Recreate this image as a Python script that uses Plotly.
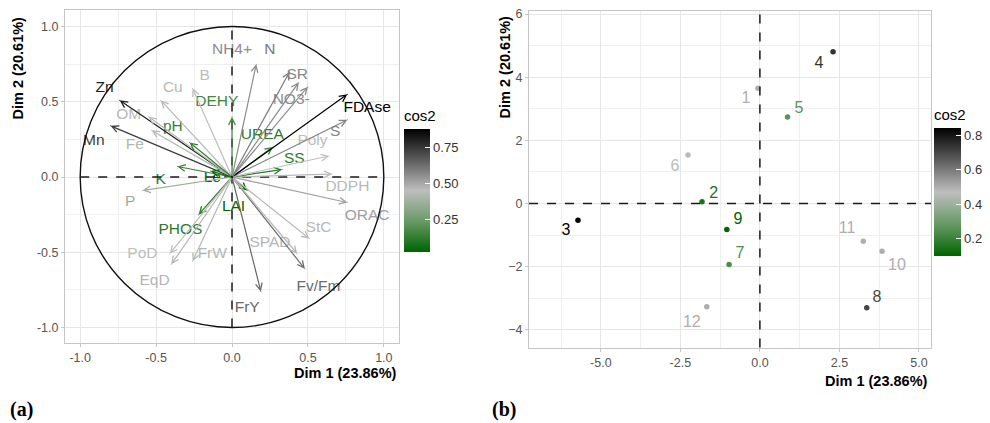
import plotly.graph_objects as go
from plotly.colors import sample_colorscale

# ---------------- data: panel (a) variables ----------------
var_names = ["Zn", "Mn", "OM", "Fe", "Cu", "B", "pH", "DEHY", "K", "P", "Le", "LAI",
             "PHOS", "PoD", "EqD", "FrW", "FrY", "Fv/Fm", "SPAD", "StC", "ORAC", "DDPH",
             "SS", "UREA", "Poly", "S", "FDAse", "NO3-", "SR", "N", "NH4+"]
var_dim1 = [-0.74, -0.80, -0.55, -0.53, -0.47, -0.26, -0.28, 0.00, -0.36, -0.59, -0.14, 0.10,
            -0.22, -0.41, -0.40, -0.26, 0.19, 0.48, 0.43, 0.51, 0.76, 0.66,
            0.33, 0.27, 0.64, 0.76, 0.76, 0.50, 0.44, 0.38, 0.16]
var_dim2 = [0.51, 0.34, 0.40, 0.31, 0.51, 0.59, 0.23, 0.40, 0.07, -0.09, 0.04, -0.09,
            -0.25, -0.51, -0.58, -0.56, -0.76, -0.61, -0.51, -0.41, -0.17, 0.02,
            0.05, 0.20, 0.14, 0.38, 0.55, 0.60, 0.63, 0.70, 0.75]
var_cos2 = [0.81, 0.74, 0.46, 0.42, 0.46, 0.44, 0.13, 0.16, 0.13, 0.36, 0.03, 0.02,
            0.11, 0.45, 0.47, 0.42, 0.64, 0.63, 0.47, 0.46, 0.52, 0.46,
            0.11, 0.11, 0.45, 0.58, 0.88, 0.56, 0.57, 0.60, 0.56]
var_lab_x = [-0.84, -0.91, -0.68, -0.64, -0.39, -0.18, -0.39, -0.10, -0.47, -0.67, -0.13, 0.01,
             -0.34, -0.59, -0.51, -0.13, 0.10, 0.57, 0.25, 0.57, 0.89, 0.76,
             0.41, 0.20, 0.53, 0.68, 0.89, 0.39, 0.43, 0.25, 0.00]
var_lab_y = [0.59, 0.24, 0.41, 0.21, 0.59, 0.67, 0.33, 0.50, -0.02, -0.17, -0.01, -0.20,
             -0.35, -0.51, -0.69, -0.51, -0.87, -0.73, -0.44, -0.34, -0.26, -0.07,
             0.12, 0.28, 0.24, 0.30, 0.46, 0.51, 0.68, 0.84, 0.84]

# ---------------- data: panel (b) individuals ----------------
ind_names = ["1", "2", "3", "4", "5", "6", "7", "8", "9", "10", "11", "12"]
ind_dim1 = [-0.06, -1.82, -5.72, 2.30, 0.87, -2.26, -0.97, 3.36, -1.04, 3.84, 3.25, -1.67]
ind_dim2 = [3.65, 0.06, -0.53, 4.81, 2.74, 1.54, -1.93, -3.30, -0.82, -1.51, -1.19, -3.27]
ind_cos2 = [0.50, 0.15, 0.84, 0.74, 0.26, 0.46, 0.24, 0.70, 0.10, 0.50, 0.50, 0.50]
ind_lab_x = [-0.44, -1.45, -6.10, 1.86, 1.23, -2.67, -0.63, 3.68, -0.69, 4.31, 2.74, -2.14]
ind_lab_y = [3.30, 0.31, -0.88, 4.43, 2.99, 1.16, -1.60, -2.99, -0.53, -1.98, -0.82, -3.77]

x_title = "Dim 1 (23.86%)"
y_title = "Dim 2 (20.61%)"

# ---------------- styling ----------------
W, H = 990, 423
FONT = "Liberation Sans, Arial, sans-serif"
cscale = [[0.0, "rgb(0,100,0)"], [0.25, "rgb(104,154,102)"], [0.5, "rgb(190,190,190)"],
          [0.75, "rgb(92,92,92)"], [1.0, "rgb(0,0,0)"]]

def cols(vals, lo, hi):
    return sample_colorscale(cscale, [(v - lo) / (hi - lo) for v in vals])

c1min, c1max = min(var_cos2), max(var_cos2)
c2min, c2max = min(ind_cos2), max(ind_cos2)
var_cols = cols(var_cos2, c1min, c1max)
ind_cols = cols(ind_cos2, c2min, c2max)

fig = go.Figure()

# panel a: invisible markers to drive the colour bar
fig.add_trace(go.Scatter(x=var_dim1, y=var_dim2, mode="markers", xaxis="x", yaxis="y",
                         marker=dict(size=1, color=var_cos2, coloraxis="coloraxis"),
                         hoverinfo="skip", showlegend=False))
fig.add_trace(go.Scatter(x=var_lab_x, y=var_lab_y, mode="text", text=var_names,
                         xaxis="x", yaxis="y", textposition="middle center",
                         textfont=dict(family=FONT, size=15.5, color=var_cols),
                         hoverinfo="skip", showlegend=False))

# panel b
fig.add_trace(go.Scatter(x=ind_dim1, y=ind_dim2, mode="markers", xaxis="x2", yaxis="y2",
                         marker=dict(size=5.5, color=ind_cos2, coloraxis="coloraxis2"),
                         hoverinfo="skip", showlegend=False))
fig.add_trace(go.Scatter(x=ind_lab_x, y=ind_lab_y, mode="text", text=ind_names,
                         xaxis="x2", yaxis="y2", textposition="middle center",
                         textfont=dict(family=FONT, size=16, color=ind_cols),
                         hoverinfo="skip", showlegend=False))

annotations = []
for x, y, c in zip(var_dim1, var_dim2, var_cols):
    annotations.append(dict(x=x, y=y, ax=0, ay=0, xref="x", yref="y", axref="x", ayref="y",
                            text="", showarrow=True, arrowhead=5, arrowsize=1.1,
                            arrowwidth=1.2, arrowcolor=c, standoff=0))

dash_line = dict(color="#1a1a1a", width=1.5, dash="dash")
shapes = [
    dict(type="circle", xref="x", yref="y", x0=-1, y0=-1, x1=1, y1=1,
         line=dict(color="#111111", width=1.4), layer="above"),
    dict(type="line", xref="x", yref="y", x0=-1, x1=1, y0=0, y1=0, line=dash_line, layer="above"),
    dict(type="line", xref="x", yref="y", x0=0, x1=0, y0=-1, y1=1, line=dash_line, layer="above"),
    dict(type="line", xref="x2 domain", yref="y2", x0=0, x1=1, y0=0, y1=0,
         line=dash_line, layer="above"),
    dict(type="line", xref="x2", yref="y2 domain", x0=0, x1=0, y0=0, y1=1,
         line=dash_line, layer="above"),
]

# axis titles and panel tags
annotations += [
    dict(text="<b>" + x_title + "</b>", xref="paper", yref="paper", x=399 / W, y=1 - 373 / H,
         xanchor="right", yanchor="middle", showarrow=False,
         font=dict(family=FONT, size=14.5, color="black")),
    dict(text="<b>" + y_title + "</b>", xref="paper", yref="paper", x=18 / W, y=1 - 12 / H,
         xanchor="center", yanchor="top", textangle=-90, showarrow=False,
         font=dict(family=FONT, size=14.5, color="black")),
    dict(text="<b>" + x_title + "</b>", xref="paper", yref="paper", x=930 / W, y=1 - 381 / H,
         xanchor="right", yanchor="middle", showarrow=False,
         font=dict(family=FONT, size=14.5, color="black")),
    dict(text="<b>" + y_title + "</b>", xref="paper", yref="paper", x=505 / W, y=1 - 10 / H,
         xanchor="center", yanchor="top", textangle=-90, showarrow=False,
         font=dict(family=FONT, size=14.5, color="black")),
    dict(text="<b>(a)</b>", xref="paper", yref="paper", x=8 / W, y=1 - 409 / H,
         xanchor="left", yanchor="middle", showarrow=False,
         font=dict(family="Liberation Serif, Times New Roman, serif", size=20, color="black")),
    dict(text="<b>(b)</b>", xref="paper", yref="paper", x=490 / W, y=1 - 409 / H,
         xanchor="left", yanchor="middle", showarrow=False,
         font=dict(family="Liberation Serif, Times New Roman, serif", size=20, color="black")),
]

grid = "#e6e6e6"
axis_common = dict(showline=True, mirror=True, linecolor="#c6c6c6", linewidth=1,
                   gridcolor=grid, gridwidth=1, zeroline=False,
                   ticks="outside", ticklen=3, tickcolor="#c6c6c6",
                   tickfont=dict(family=FONT, size=12.5, color="#555555"))

fig.update_layout(
    width=W, height=H, margin=dict(l=0, r=0, t=0, b=0),
    paper_bgcolor="white", plot_bgcolor="white", showlegend=False,
    xaxis=dict(domain=[65 / W, 399 / W], range=[-1.10, 1.10], anchor="y",
               tickvals=[-1, -0.5, 0, 0.5, 1], ticktext=["-1.0", "-0.5", "0.0", "0.5", "1.0"],
               minor=dict(dtick=0.25, tick0=0, showgrid=True, gridcolor="#efefef", gridwidth=0.6),
               **axis_common),
    yaxis=dict(domain=[1 - 342 / H, 1 - 7 / H], range=[-1.10, 1.11], anchor="x",
               tickvals=[-1, -0.5, 0, 0.5, 1], ticktext=["-1.0", "-0.5", "0.0", "0.5", "1.0"],
               minor=dict(dtick=0.25, tick0=0, showgrid=True, gridcolor="#efefef", gridwidth=0.6),
               **axis_common),
    xaxis2=dict(domain=[529 / W, 931 / W], range=[-7.26, 5.38], anchor="y2",
                tickvals=[-5, -2.5, 0, 2.5, 5], ticktext=["-5.0", "-2.5", "0.0", "2.5", "5.0"],
                minor=dict(dtick=1.25, tick0=0, showgrid=True, gridcolor="#efefef", gridwidth=0.6),
                **axis_common),
    yaxis2=dict(domain=[1 - 347 / H, 1 - 8 / H], range=[-4.56, 6.1], anchor="x2",
                tickvals=[-4, -2, 0, 2, 4, 6],
                minor=dict(dtick=1, tick0=0, showgrid=True, gridcolor="#efefef", gridwidth=0.6),
                **axis_common),
    coloraxis=dict(colorscale=cscale, cmin=c1min, cmax=c1max,
                   colorbar=dict(x=404 / W, xanchor="left", y=1 - 251 / H, yanchor="bottom",
                                 lenmode="pixels", len=145, thickness=26, xpad=0, ypad=0,
                                 outlinewidth=0,
                                 title=dict(text="cos2", side="top",
                                            font=dict(family=FONT, size=15, color="black")),
                                 tickvals=[0.25, 0.5, 0.75], ticktext=["0.25", "0.50", "0.75"],
                                 ticks="inside", ticklen=5, tickcolor="white",
                                 tickfont=dict(family=FONT, size=13, color="#333333"))),
    coloraxis2=dict(colorscale=cscale, cmin=c2min, cmax=c2max,
                    colorbar=dict(x=934 / W, xanchor="left", y=1 - 255 / H, yanchor="bottom",
                                  lenmode="pixels", len=150, thickness=27, xpad=0, ypad=0,
                                  outlinewidth=0,
                                  title=dict(text="cos2", side="top",
                                             font=dict(family=FONT, size=15, color="black")),
                                  tickvals=[0.2, 0.4, 0.6, 0.8],
                                  ticktext=["0.2", "0.4", "0.6", "0.8"],
                                  ticks="inside", ticklen=5, tickcolor="white",
                                  tickfont=dict(family=FONT, size=13, color="#333333"))),
    shapes=shapes, annotations=annotations,
)

fig.write_html("out.html")
